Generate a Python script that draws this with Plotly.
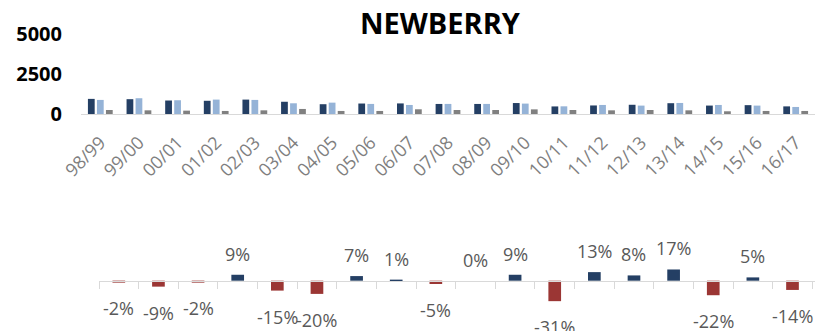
import plotly.graph_objects as go

# Seasons and yearly figures
seasons = ["98/99", "99/00", "00/01", "01/02", "02/03", "03/04", "04/05", "05/06",
           "06/07", "07/08", "08/09", "09/10", "10/11", "11/12", "12/13", "13/14",
           "14/15", "15/16", "16/17"]
series_a = [945, 926, 843, 826, 900, 765, 612, 655, 661, 628, 628, 685, 473, 534,
            577, 675, 527, 553, 476]
series_b = [880, 985, 860, 900, 880, 670, 710, 630, 565, 630, 630, 650, 480, 565,
            525, 690, 565, 525, 440]
series_c = [250, 230, 210, 190, 230, 315, 190, 190, 295, 250, 250, 290, 250, 230,
            250, 230, 170, 190, 190]

# Year-over-year change (percent)
change_seasons = seasons[1:]
change_pct = [-2, -9, -2, 9, -15, -20, 7, 1, -5, 0, 9, -31, 13, 8, 17, -22, 5, -14]

NAVY = "#243f64"
LIGHT = "#95b3d7"
GREY = "#808080"
RED = "#9b3634"
AXIS = "#d9d9d9"
FONT = "Open Sans"

H = 331.0
W = 819.0

def py(px):
    return 1 - px / H

def pxx(px):
    return px / W

fig = go.Figure()

for vals, col in [(series_a, NAVY), (series_b, LIGHT), (series_c, GREY)]:
    fig.add_trace(go.Bar(x=seasons, y=vals, marker=dict(color=col, line=dict(width=0)),
                         xaxis="x", yaxis="y", showlegend=False))

ch = [v / 100 for v in change_pct]
fig.add_trace(go.Bar(x=change_seasons, y=ch, width=0.32,
                     marker=dict(color=[NAVY if v >= 0 else RED for v in change_pct],
                                 line=dict(width=0)),
                     xaxis="x2", yaxis="y2", showlegend=False))

annotations = []
for s, v in zip(change_seasons, change_pct):
    annotations.append(dict(x=s, y=v / 100, xref="x2", yref="y2", text=f"{v}%",
                            showarrow=False, yshift=21 if v >= 0 else -26,
                            font=dict(family=FONT, size=18, color="#595959")))
annotations.append(dict(x=pxx(440), y=py(22), xref="paper", yref="paper",
                        xanchor="center", yanchor="middle",
                        text="<b>NEWBERRY</b>", showarrow=False,
                        font=dict(family=FONT, size=29, color="#000000")))

zero_px = 280.7
d0, d1 = 0.03, 0.27
bot_px = H * (1 - d0)
top_px = H * (1 - d1)
scale = 66.0  # pixels per 100%
r0 = -(bot_px - zero_px) / scale
r1 = (zero_px - top_px) / scale

fig.update_layout(
    width=819, height=331,
    margin=dict(l=0, r=0, t=0, b=0, autoexpand=False),
    paper_bgcolor="white", plot_bgcolor="white",
    barmode="group", bargap=0.3, bargroupgap=0.25,
    font=dict(family=FONT),
    xaxis=dict(domain=[pxx(81), pxx(815)], anchor="y", showline=True,
               linecolor=AXIS, linewidth=1, showgrid=False, ticks="",
               automargin=False,
               tickangle=-45, ticklabelstandoff=10,
               tickfont=dict(family=FONT, size=18, color="#7f7f7f")),
    yaxis=dict(domain=[py(114), py(34)], anchor="x", range=[0, 5000],
               tickvals=[0, 2500, 5000], showgrid=False, zeroline=False,
               showline=False, ticklabelstandoff=18, automargin=False,
               tickfont=dict(family=FONT, size=20, color="#000000", weight="bold")),
    xaxis2=dict(domain=[pxx(99), pxx(815)], anchor="free", position=py(zero_px),
                showline=True, linecolor=AXIS, linewidth=1, showgrid=False,
                showticklabels=False, ticks="outside", tickson="boundaries",
                ticklen=7, tickcolor=AXIS, tickwidth=1, automargin=False),
    yaxis2=dict(domain=[d0, d1], anchor="x2", range=[r0, r1], visible=False,
                showgrid=False, zeroline=False, automargin=False),
    annotations=annotations,
)

fig.write_html("out.html")
